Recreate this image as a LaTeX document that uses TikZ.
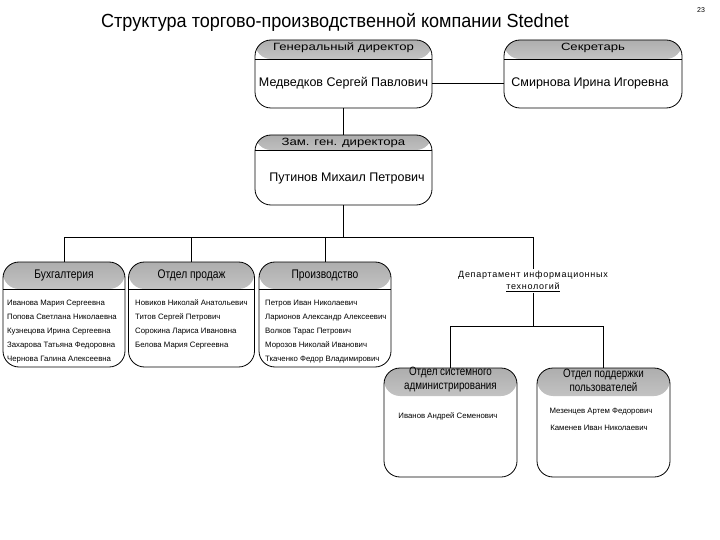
\documentclass[tikz,border=0pt]{standalone}
\usepackage{fontspec}
\setmainfont{Liberation Sans}
\newfontfamily\narrowf[FakeStretch=0.82]{Liberation Sans}
\newfontfamily\titlef[FakeStretch=0.95]{Liberation Sans}
\newfontfamily\widef[FakeStretch=1.25]{Liberation Sans}
\newfontfamily\spacedf[LetterSpace=8]{Liberation Sans}
\usetikzlibrary{calc}
\begin{document}
\begin{tikzpicture}[x=1pt,y=-1pt,
  orgbox/.style={draw=black, line width=0.8pt, rounded corners=16pt, inner sep=0pt},
  hdrline/.style={path picture={
     \shade[top color=black!32,bottom color=white] (path picture bounding box.north west) rectangle ([yshift=-#1]path picture bounding box.north east);
     \draw[line width=0.8pt] ([yshift=-#1]path picture bounding box.north west) -- ([yshift=-#1]path picture bounding box.north east);}},
  hdrshade/.style={path picture={
     \shade[top color=black!32,bottom color=white] (path picture bounding box.north west) rectangle ([yshift=-#1]path picture bounding box.north east);}},
  toptext/.style={inner sep=0pt, font=\widef\fontsize{10.5}{12}\selectfont},
  nametext/.style={inner sep=0pt, font=\fontsize{12.5}{14}\selectfont},
  depttext/.style={inner sep=0pt, font=\narrowf\fontsize{12.5}{14}\selectfont, align=center},
  itemtext/.style={inner sep=0pt, anchor=base west, font=\fontsize{7.8}{9}\selectfont},
  conn/.style={draw=black, line width=0.8pt}
]
\useasboundingbox (0,0) rectangle (720,540);
\fill[white] (0,0) rectangle (720,540);

% title and page number
\node[inner sep=0pt, font=\titlef\fontsize{19}{22}\selectfont] (title) at (335,22) {Структура торгово-производственной компании Stednet};
\node[inner sep=0pt, font=\fontsize{7}{8}\selectfont] (pnum) at (701,10) {23};

% top boxes
\node[orgbox, minimum width=177pt, minimum height=68pt, hdrline=19pt] (gd) at (343.5,74) {};
\node[orgbox, minimum width=178pt, minimum height=68pt, hdrline=19pt] (sec) at (593,74) {};
\node[orgbox, minimum width=177pt, minimum height=70pt, hdrline=15pt] (zam) at (343.5,170) {};

\node[toptext] (gdh) at (343.5,48) {Генеральный директор};
\node[nametext] (gdn) at (343.5,83) {Медведков Сергей Павлович};
\node[toptext] (sech) at (593,48) {Секретарь};
\node[nametext] (secn) at (590,83) {Смирнова Ирина Игоревна};
\node[toptext] (zamh) at (343.5,143) {Зам. ген. директора};
\node[nametext] (zamn) at (347,178) {Путинов Михаил Петрович};

% row 2 boxes
\node[orgbox, minimum width=122pt, minimum height=105pt, hdrline=27pt] (buh) at (64,314.5) {};
\node[orgbox, minimum width=126pt, minimum height=105pt, hdrline=27pt] (sales) at (191.5,314.5) {};
\node[orgbox, minimum width=132pt, minimum height=105pt, hdrline=27pt] (prod) at (325,314.5) {};

\node[depttext] (buhh) at (64,275) {Бухгалтерия};
\node[depttext] (salesh) at (191.5,275) {Отдел продаж};
\node[depttext] (prodh) at (325,275) {Производство};

\node[itemtext] (b1) at (7,305) {Иванова Мария Сергеевна};
\node[itemtext] (b2) at (7,319) {Попова Светлана Николаевна};
\node[itemtext] (b3) at (7,333) {Кузнецова Ирина Сергеевна};
\node[itemtext] (b4) at (7,347) {Захарова Татьяна Федоровна};
\node[itemtext] (b5) at (7,361) {Чернова Галина Алексеевна};

\node[itemtext] (s1) at (135,305) {Новиков Николай Анатольевич};
\node[itemtext] (s2) at (135,319) {Титов Сергей Петрович};
\node[itemtext] (s3) at (135,333) {Сорокина Лариса Ивановна};
\node[itemtext] (s4) at (135,347) {Белова Мария Сергеевна};

\node[itemtext] (p1) at (265,305) {Петров Иван Николаевич};
\node[itemtext] (p2) at (265,319) {Ларионов Александр Алексеевич};
\node[itemtext] (p3) at (265,333) {Волков Тарас Петрович};
\node[itemtext] (p4) at (265,347) {Морозов Николай Иванович};
\node[itemtext] (p5) at (265,361) {Ткаченко Федор Владимирович};

% IT department
\node[inner sep=1pt, align=center, font=\spacedf\fontsize{9}{12}\selectfont] (dit) at (533,281) {Департамент информационных\\\underline{технологий}};

% row 3 boxes
\node[orgbox, minimum width=133pt, minimum height=109pt, hdrshade=28pt] (sys) at (450.5,422.5) {};
\node[orgbox, minimum width=133pt, minimum height=109pt, hdrshade=28pt] (sup) at (603.5,422.5) {};

\node[depttext, font=\narrowf\fontsize{12}{14}\selectfont] (sysh) at (450.5,380) {Отдел системного\\администрирования};
\node[depttext, font=\narrowf\fontsize{12}{14}\selectfont] (suph) at (603.5,380) {Отдел поддержки\\пользователей};
\node[itemtext, anchor=base] (sys1) at (448,418) {Иванов Андрей Семенович};
\node[itemtext, anchor=base] (sup1) at (601,413) {Мезенцев Артем Федорович};
\node[itemtext, anchor=base] (sup2) at (599,430) {Каменев Иван Николаевич};

% connectors
\coordinate (busL) at (64,237);
\coordinate (busR) at (533,237);
\coordinate (itbus) at (450.5,326);
\draw[conn] (gd.east |- gdn) -- (sec.west |- gdn);
\draw[conn] (gd.south) -- (zam.north);
\draw[conn] (zam.south) -- (zam.south |- busL);
\draw[conn] (busL) -- (busR);
\draw[conn] (buh.north) -- (buh.north |- busL);
\draw[conn] (sales.north) -- (sales.north |- busL);
\draw[conn] (prod.north) -- (prod.north |- busL);
\draw[conn] (busR) -- (dit.north -| busR);
\draw[conn] (dit.south -| busR) -- (busR |- itbus);
\draw[conn] (sys.north |- itbus) -- (sup.north |- itbus);
\draw[conn] (sys.north) -- (sys.north |- itbus);
\draw[conn] (sup.north) -- (sup.north |- itbus);
\end{tikzpicture}
\end{document}
